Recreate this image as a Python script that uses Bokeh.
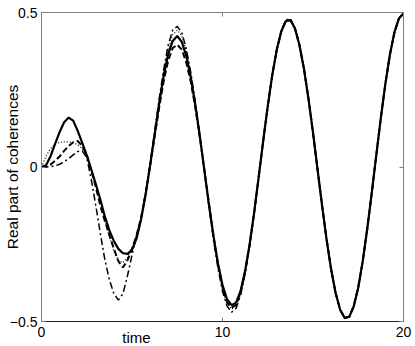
import math
from bokeh.plotting import figure
from bokeh.models import Range1d, FixedTicker, LinearAxis
from bokeh.core.properties import value
from bokeh.embed import file_html
from bokeh.resources import INLINE

# sample times (step 0.25 from 0 to 20)
time = [i * 0.25 for i in range(81)]

solid = [
    0.000, 0.006, 0.035, 0.075, 0.113, 0.145, 0.160, 0.150, 0.117, 0.078,
    0.038, -0.008, -0.055, -0.105, -0.160, -0.205, -0.240, -0.265, -0.279, -0.281,
    -0.268, -0.232, -0.170, -0.090, 0.005, 0.105, 0.205, 0.295, 0.365, 0.408,
    0.424, 0.405, 0.359, 0.289, 0.200, 0.098, -0.012, -0.121, -0.223, -0.312,
    -0.382, -0.428, -0.447, -0.439, -0.401, -0.336, -0.250, -0.147, -0.032, 0.085,
    0.197, 0.298, 0.380, 0.439, 0.472, 0.475, 0.449, 0.395, 0.318, 0.221,
    0.111, -0.007, -0.124, -0.234, -0.331, -0.408, -0.462, -0.488, -0.485, -0.451,
    -0.390, -0.304, -0.199, -0.082, 0.040, 0.160, 0.270, 0.364, 0.436, 0.481,
    0.497,
]

dotted = [
    0.000, 0.035, 0.060, 0.074, 0.080, 0.081, 0.081, 0.079, 0.072, 0.060,
    0.038, -0.008, -0.058, -0.110, -0.170, -0.225, -0.272, -0.302, -0.310, -0.293,
    -0.262, -0.225, -0.165, -0.085, 0.010, 0.112, 0.213, 0.305, 0.380, 0.428,
    0.443, 0.425, 0.375, 0.300, 0.208, 0.103, -0.010, -0.123, -0.228, -0.320,
    -0.393, -0.440, -0.460, -0.450, -0.410, -0.342, -0.254, -0.150, -0.033, 0.085,
    0.197, 0.298, 0.381, 0.441, 0.474, 0.478, 0.450, 0.395, 0.318, 0.221,
    0.111, -0.007, -0.124, -0.234, -0.331, -0.408, -0.462, -0.489, -0.486, -0.451,
    -0.390, -0.304, -0.199, -0.082, 0.040, 0.160, 0.270, 0.364, 0.436, 0.481,
    0.497,
]

dashed = [
    0.000, 0.001, 0.008, 0.020, 0.034, 0.052, 0.068, 0.080, 0.084, 0.068,
    0.040, -0.010, -0.065, -0.125, -0.175, -0.220, -0.265, -0.305, -0.325, -0.302,
    -0.265, -0.222, -0.165, -0.088, 0.003, 0.098, 0.192, 0.278, 0.345, 0.385,
    0.396, 0.380, 0.338, 0.275, 0.192, 0.095, -0.010, -0.118, -0.222, -0.315,
    -0.388, -0.438, -0.455, -0.446, -0.405, -0.338, -0.251, -0.148, -0.032, 0.085,
    0.197, 0.298, 0.380, 0.440, 0.473, 0.476, 0.449, 0.395, 0.318, 0.221,
    0.111, -0.007, -0.124, -0.234, -0.331, -0.408, -0.462, -0.488, -0.485, -0.451,
    -0.390, -0.304, -0.199, -0.082, 0.040, 0.160, 0.270, 0.364, 0.436, 0.481,
    0.497,
]

dashdot = [
    0.000, 0.000, 0.001, 0.004, 0.009, 0.017, 0.027, 0.039, 0.050, 0.052,
    0.030, -0.040, -0.125, -0.215, -0.300, -0.365, -0.410, -0.431, -0.410, -0.352,
    -0.285, -0.222, -0.168, -0.085, 0.012, 0.115, 0.220, 0.315, 0.395, 0.443,
    0.455, 0.435, 0.383, 0.305, 0.210, 0.103, -0.012, -0.128, -0.235, -0.328,
    -0.402, -0.450, -0.470, -0.458, -0.415, -0.345, -0.256, -0.150, -0.033, 0.085,
    0.197, 0.298, 0.381, 0.441, 0.476, 0.479, 0.451, 0.396, 0.318, 0.221,
    0.111, -0.007, -0.124, -0.234, -0.331, -0.408, -0.463, -0.490, -0.486, -0.451,
    -0.390, -0.304, -0.199, -0.082, 0.040, 0.160, 0.270, 0.364, 0.436, 0.481,
    0.497,
]

x_ticks = [0.0, 10.0, 20.0]
x_tick_labels = ["0", "10", "20"]
y_ticks = [-0.5, 0.0, 0.5]
y_tick_labels = ["\u22120.5", "0", "0.5"]

x_title = "time"
y_title = "Real part of coherences"

FONT = "Liberation Sans"
GRAY = "#808080"

p = figure(
    width=415, height=346,
    x_range=Range1d(0, 20), y_range=Range1d(-0.5, 0.5),
    output_backend="svg", toolbar_location=None,
    min_border_left=41, min_border_right=12, min_border_top=12, min_border_bottom=25,
)
p.background_fill_color = "white"
p.border_fill_color = "white"
p.outline_line_color = GRAY
p.outline_line_width = 1
p.xgrid.visible = False
p.ygrid.visible = False

# bottom axis
xa = p.xaxis[0]
xa.ticker = FixedTicker(ticks=x_ticks)
xa.major_label_overrides = dict(zip(x_ticks, x_tick_labels))
xa.axis_line_color = "#222222"
xa.major_tick_in = 4
xa.major_tick_out = 0
xa.major_tick_line_color = GRAY
xa.minor_tick_line_color = None
xa.major_label_standoff = 5
xa.major_label_text_font = FONT
xa.major_label_text_font_size = "14px"
xa.major_label_text_color = "black"

# left axis (title drawn by the axis, pulled in over the tick-label column)
ya = p.yaxis[0]
ya.ticker = FixedTicker(ticks=y_ticks)
ya.major_label_overrides = dict(zip(y_ticks, y_tick_labels))
ya.axis_line_color = GRAY
ya.major_tick_in = 4
ya.major_tick_out = 0
ya.major_tick_line_color = GRAY
ya.minor_tick_line_color = None
ya.major_label_standoff = 4
ya.major_label_text_font = FONT
ya.major_label_text_font_size = "14px"
ya.major_label_text_color = "black"
ya.axis_label = y_title
ya.axis_label_text_font = FONT
ya.axis_label_text_font_size = "15.5px"
ya.axis_label_text_font_style = "normal"
ya.axis_label_text_color = "black"
ya.axis_label_standoff = -14

# mirrored tick marks on top and right
for loc, ticks in (("above", x_ticks), ("right", y_ticks)):
    ax = LinearAxis(ticker=FixedTicker(ticks=ticks))
    ax.major_label_text_font_size = "0px"
    ax.major_label_standoff = 0
    ax.axis_line_color = GRAY
    ax.major_tick_in = 4
    ax.major_tick_out = 0
    ax.major_tick_line_color = GRAY
    ax.minor_tick_line_color = None
    p.add_layout(ax, loc)

p.line(time, dotted, line_color="black", line_width=1.2, line_dash="1 2")
p.line(time, dashed, line_color="black", line_width=2, line_dash="6 3")
p.line(time, dashdot, line_color="black", line_width=1.5, line_dash="7 3 2 3")
p.line(time, solid, line_color="black", line_width=2.2)

# x title, left of centre as in the original
p.text(x=[5.25], y=[-0.552], text=[x_title], text_align="center",
       text_baseline="middle", text_font=value(FONT), text_font_size="15px",
       text_color="black", level="annotation")

open("out.html", "w").write(file_html(p, INLINE))
